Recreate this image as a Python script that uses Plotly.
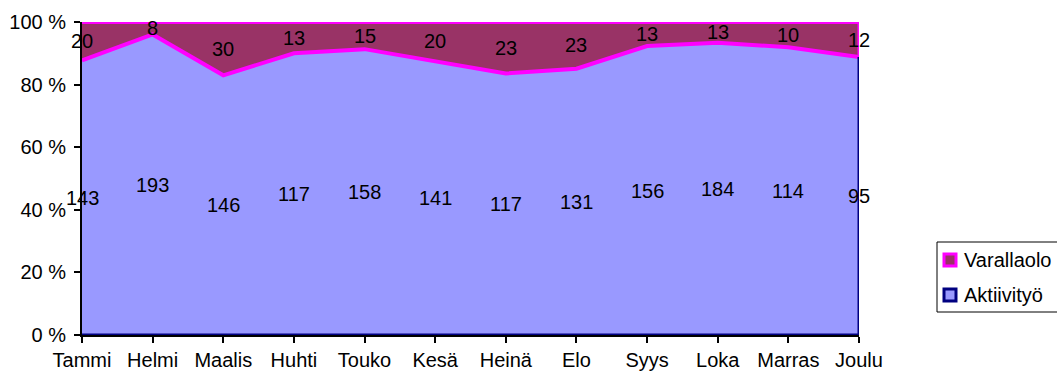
import plotly.graph_objects as go

months = ["Tammi", "Helmi", "Maalis", "Huhti", "Touko", "Kesä", "Heinä", "Elo", "Syys", "Loka", "Marras", "Joulu"]
aktiivityo = [143, 193, 146, 117, 158, 141, 117, 131, 156, 184, 114, 95]
varallaolo = [20, 8, 30, 13, 15, 20, 23, 23, 13, 13, 10, 12]
y_ticks = [0, 20, 40, 60, 80, 100]

tot = [a + v for a, v in zip(aktiivityo, varallaolo)]
pa = [a / t * 100 for a, t in zip(aktiivityo, tot)]
pv = [v / t * 100 for v, t in zip(varallaolo, tot)]
xs = list(range(len(months)))
last = xs[-1]

FONT = "Liberation Sans, Arial, sans-serif"
FS = 20
MAG = "#FF00FF"
NAVY = "#000080"
FILL_A = "#9999FF"
FILL_V = "#993366"

L, R, T, B = 82, 859, 22, 335
def px(xp):
    return (xp - L) / (R - L)
def py(yp):
    return (B - yp) / (B - T)

fig = go.Figure()
fig.add_trace(go.Scatter(x=xs, y=pa, name="Aktiivityö", mode="lines",
                         stackgroup="one", line=dict(color=NAVY, width=0),
                         fillcolor=FILL_A, hoverinfo="skip"))
fig.add_trace(go.Scatter(x=xs, y=pv, name="Varallaolo", mode="lines",
                         stackgroup="one", line=dict(color=MAG, width=4),
                         fillcolor=FILL_V, hoverinfo="skip"))
# borders of the areas
fig.add_trace(go.Scatter(x=xs, y=pa, mode="lines", line=dict(color=MAG, width=4),
                         hoverinfo="skip"))
fig.add_trace(go.Scatter(x=[last, last], y=[0, pa[-1]], mode="lines",
                         line=dict(color=NAVY, width=3), hoverinfo="skip"))
fig.add_trace(go.Scatter(x=[last, last], y=[pa[-1], 100], mode="lines",
                         line=dict(color=MAG, width=3), hoverinfo="skip"))
fig.add_trace(go.Scatter(x=[xs[0], last], y=[0, 0], mode="lines",
                         line=dict(color=NAVY, width=3), hoverinfo="skip"))

for i in xs:
    fig.add_annotation(x=i, y=pa[i] / 2, text=str(aktiivityo[i]), showarrow=False,
                       font=dict(family=FONT, size=FS, color="black"))
    fig.add_annotation(x=i, y=pa[i] + pv[i] / 2, text=str(varallaolo[i]), showarrow=False,
                       font=dict(family=FONT, size=FS, color="black"))

# legend drawn as shapes + text (Varallaolo on top)
fig.add_shape(type="rect", xref="paper", yref="paper", x0=px(937), x1=px(1070),
              y0=py(312), y1=py(242), line=dict(color="black", width=1), fillcolor="white",
              layer="above")
legend_items = [("Varallaolo", MAG, FILL_V, 260), ("Aktiivityö", NAVY, FILL_A, 295)]
for name, edge, fill, cy in legend_items:
    fig.add_shape(type="rect", xref="paper", yref="paper", x0=px(944), x1=px(956),
                  y0=py(cy + 6), y1=py(cy - 6), line=dict(color=edge, width=3),
                  fillcolor=fill, layer="above")
    fig.add_annotation(xref="paper", yref="paper", x=px(962), y=py(cy), text=name,
                       showarrow=False, xanchor="left", yanchor="middle",
                       font=dict(family=FONT, size=FS, color="black"))

fig.update_layout(
    width=1057, height=377,
    margin=dict(l=L, r=1057 - R, t=T, b=377 - B, autoexpand=False),
    paper_bgcolor="white", plot_bgcolor="white",
    font=dict(family=FONT, size=FS, color="black"),
    showlegend=False,
    xaxis=dict(range=[0, last], showgrid=False, showline=True, linecolor="black", linewidth=2,
               ticks="outside", ticklen=6, tickcolor="black", tickwidth=2, tickmode="array",
               tickvals=xs, ticktext=months, zeroline=False),
    yaxis=dict(range=[0, 100], showgrid=False, showline=True, linecolor="black", linewidth=2,
               ticks="outside", ticklen=6, tickcolor="black", tickwidth=2, tickmode="array",
               tickvals=y_ticks, ticktext=[f"{v} %" for v in y_ticks], zeroline=False,
               ticklabelstandoff=4),
)
fig.write_html("out.html", config={"displayModeBar": False},
               post_script="document.body.style.margin='0px';")
